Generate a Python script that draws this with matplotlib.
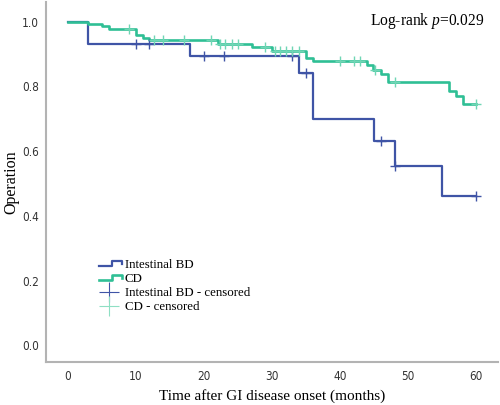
import numpy as np
import matplotlib
matplotlib.use("Agg")
import matplotlib.pyplot as plt
from matplotlib.lines import Line2D
from matplotlib.legend_handler import HandlerBase
from matplotlib import font_manager

# Kaplan-Meier step data (months, proportion)
bd_times = [0, 3, 18, 34, 36, 45, 48, 55, 60]
bd_surv = [1.0, 0.932, 0.893, 0.841, 0.699, 0.630, 0.553, 0.461, 0.461]
bd_censor = [10, 12, 20, 23, 33, 35, 46, 48, 60]

cd_times = [0, 3, 5, 6, 10, 11, 12, 22, 27, 30, 35, 36, 44, 44.8, 46, 47, 56, 57, 58, 60]
cd_surv = [1.0, 0.994, 0.987, 0.976, 0.959, 0.951, 0.943, 0.932, 0.922, 0.910,
           0.889, 0.877, 0.866, 0.851, 0.838, 0.814, 0.785, 0.771, 0.746, 0.746]
cd_censor = [9, 12.7, 14, 17, 21, 22.4, 23.1, 24.1, 25, 29, 30.4, 31.2, 32, 32.9,
             33.9, 40, 42, 43, 45.2, 48, 60]

bd_color = "#3f54a6"
cd_color = "#2fbf95"
serif = ["Liberation Serif", "DejaVu Serif"]
installed = {f.name for f in font_manager.fontManager.ttflist}
if "Liberation Sans Narrow" in installed:
    narrow, narrow_stretch = "Liberation Sans Narrow", "normal"
else:
    narrow, narrow_stretch = "DejaVu Sans", "condensed"

plt.rcParams["mathtext.fontset"] = "custom"
plt.rcParams["mathtext.rm"] = "Liberation Serif"
plt.rcParams["mathtext.it"] = "Liberation Serif:italic"


def level_at(times, surv, t):
    i = np.searchsorted(times, t, side="right") - 1
    return np.asarray(surv)[i]


class StepHandler(HandlerBase):
    def create_artists(self, legend, orig_handle, xdescent, ydescent,
                       width, height, fontsize, trans):
        x0 = -xdescent + 0.1 * width
        x1 = -xdescent + width
        xm = x0 + 0.55 * (x1 - x0)
        yl = -ydescent + 0.2 * height
        yh = -ydescent + 0.75 * height
        xs = [x0, xm, xm, x1, x1]
        ys = [yl, yl, yh, yh, yl + 0.25 * height]
        ln = Line2D(xs, ys, color=orig_handle.get_color(),
                    lw=orig_handle.get_linewidth(), transform=trans)
        return [ln]


fig = plt.figure(figsize=(5, 4.05), dpi=100)
ax = fig.add_axes([0.092, 0.106, 0.904, 0.89])

bd_line, = ax.step(bd_times, bd_surv, where="post", color=bd_color, lw=1.6)
cd_line, = ax.step(cd_times, cd_surv, where="post", color=cd_color, lw=1.9)
bd_c, = ax.plot(bd_censor, [level_at(bd_times, bd_surv, t) for t in bd_censor],
                ls="none", marker="+", ms=7, mew=1.0, color=bd_color)
cd_c, = ax.plot(cd_censor, [level_at(cd_times, cd_surv, t) for t in cd_censor],
                ls="none", marker="+", ms=7, mew=1.0, color="#6fd6b4")

ax.set_xlim(-3.2, 63.2)
ax.set_ylim(-0.052, 1.062)
ax.set_xticks([0, 10, 20, 30, 40, 50, 60])
ax.set_yticks([0.0, 0.2, 0.4, 0.6, 0.8, 1.0])
ax.set_yticklabels(["0.0", "0.2", "0.4", "0.6", "0.8", "1.0"])
ax.tick_params(length=0, labelsize=8.5, labelcolor="#333333")
ax.tick_params(axis="y", pad=5)
ax.tick_params(axis="x", pad=6)
for lab in ax.get_xticklabels() + ax.get_yticklabels():
    lab.set_family(narrow)
    lab.set_stretch(narrow_stretch)

for s in ["top", "right"]:
    ax.spines[s].set_visible(False)
for s in ["left", "bottom"]:
    ax.spines[s].set_color("#b3b3b3")
    ax.spines[s].set_linewidth(1.5)

ax.set_xlabel("Time after GI disease onset (months)", family=serif, fontsize=11)
ax.set_ylabel("Operation", family=serif, fontsize=11.5)
ax.xaxis.set_label_coords(0.5, -0.075)
ax.yaxis.set_label_coords(-0.058, 0.5)

ax.text(0.97, 0.975, "Log-rank $\\mathit{p}$=0.029", transform=ax.transAxes,
        ha="right", va="top", family=serif, fontsize=11.2)

bd_c_leg = Line2D([], [], ls="none", marker="+", ms=15, mew=0.8, color=bd_color)
cd_c_leg = Line2D([], [], ls="none", marker="+", ms=15, mew=0.8, color="#8fdfc4")
leg = ax.legend([bd_line, cd_line, bd_c_leg, cd_c_leg],
                ["Intestinal BD", "CD", "Intestinal BD - censored", "CD - censored"],
                handler_map={bd_line: StepHandler(), cd_line: StepHandler()},
                loc="upper left", bbox_to_anchor=(0.1, 0.3), frameon=False,
                prop={"family": serif, "size": 9.3}, handlelength=2.0,
                handletextpad=0.2, labelspacing=0.15, borderaxespad=0)

fig.savefig("out.png", dpi=100)
